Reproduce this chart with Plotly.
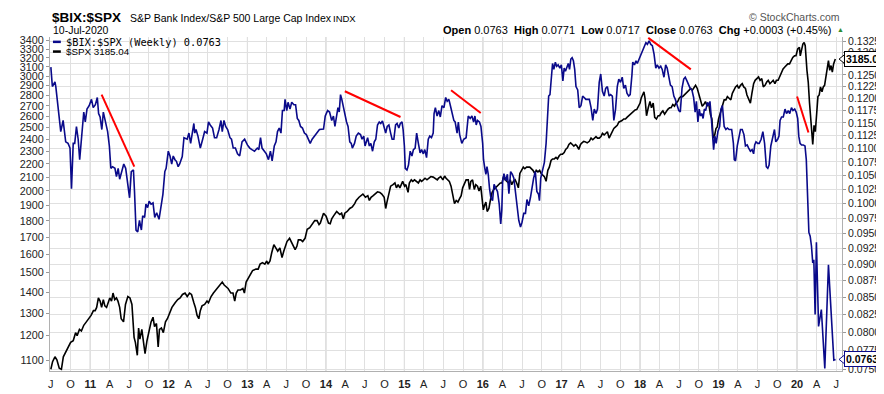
import math
import plotly.graph_objects as go

# ---------------- data ----------------
ratio_points = [
("2010-07-02",0.1267),("2010-07-09",0.1225),("2010-07-21",0.1235),("2010-07-25",0.1225),("2010-08-17",0.1133),
("2010-08-28",0.1155),("2010-09-09",0.1113),("2010-09-20",0.1110),("2010-09-29",0.1101),("2010-10-06",0.1026),
("2010-10-14",0.1110),("2010-10-21",0.1110),("2010-10-29",0.1143),("2010-11-06",0.1118),("2010-11-13",0.1079),
("2010-11-24",0.1137),("2010-12-02",0.1172),("2010-12-09",0.1152),("2010-12-17",0.1178),("2010-12-27",0.1185),
("2011-01-07",0.1198),("2011-01-15",0.1181),("2011-01-25",0.1187),("2011-02-03",0.1202),("2011-02-09",0.1169),
("2011-02-16",0.1162),("2011-02-24",0.1137),("2011-03-03",0.1172),("2011-03-14",0.1149),("2011-03-23",0.1133),
("2011-03-31",0.1105),("2011-04-07",0.1063),("2011-04-15",0.1066),("2011-04-26",0.1063),("2011-05-03",0.1048),
("2011-05-11",0.1063),("2011-05-18",0.1043),("2011-05-27",0.1057),("2011-06-06",0.1071),("2011-06-15",0.1063),
("2011-06-25",0.1027),("2011-07-03",0.1010),("2011-07-11",0.1057),("2011-07-21",0.1060),("2011-07-26",0.1021),
("2011-08-02",0.0955),("2011-08-10",0.0952),("2011-08-18",0.0971),("2011-08-27",0.0955),("2011-09-02",0.0979),
("2011-09-11",0.0976),("2011-09-17",0.0999),("2011-09-25",0.0993),("2011-10-02",0.1004),("2011-10-11",0.0999),
("2011-10-20",0.1001),("2011-10-28",0.0976),("2011-11-06",0.0984),("2011-11-17",0.0973),("2011-11-26",0.0999),
("2011-12-05",0.1016),("2011-12-14",0.1057),("2011-12-20",0.1063),("2011-12-30",0.1095),("2012-01-07",0.1086),
("2012-01-15",0.1071),("2012-01-22",0.1086),("2012-01-30",0.1079),("2012-02-06",0.1076),("2012-02-14",0.1066),
("2012-02-21",0.1071),("2012-03-04",0.1085),("2012-03-12",0.1121),("2012-03-27",0.1118),("2012-04-04",0.1130),
("2012-04-12",0.1110),("2012-04-19",0.1127),("2012-04-27",0.1149),("2012-05-01",0.1130),("2012-05-07",0.1137),
("2012-05-16",0.1124),("2012-05-27",0.1101),("2012-06-07",0.1118),("2012-06-16",0.1133),("2012-06-27",0.1130),
("2012-07-04",0.1152),("2012-07-12",0.1146),("2012-07-23",0.1140),("2012-08-01",0.1121),("2012-08-11",0.1121),
("2012-08-22",0.1137),("2012-08-31",0.1155),("2012-09-06",0.1133),("2012-09-14",0.1155),("2012-09-22",0.1143),
("2012-10-01",0.1137),("2012-10-12",0.1121),("2012-10-19",0.1118),("2012-10-27",0.1101),("2012-11-06",0.1101),
("2012-11-16",0.1090),("2012-11-26",0.1086),("2012-12-07",0.1113),("2012-12-19",0.1118),("2013-01-01",0.1107),
("2013-01-12",0.1101),("2013-01-22",0.1098),("2013-02-03",0.1095),("2013-02-16",0.1101),("2013-02-23",0.1098),
("2013-03-03",0.1121),("2013-03-10",0.1101),("2013-03-21",0.1095),("2013-03-30",0.1090),("2013-04-09",0.1079),
("2013-04-18",0.1095),("2013-04-26",0.1077),("2013-05-06",0.1105),("2013-05-14",0.1113),("2013-05-21",0.1133),
("2013-05-29",0.1140),("2013-06-06",0.1130),("2013-06-13",0.1175),("2013-06-21",0.1175),("2013-06-25",0.1198),
("2013-07-03",0.1175),("2013-07-09",0.1192),("2013-07-18",0.1178),("2013-07-26",0.1192),("2013-08-05",0.1187),
("2013-08-13",0.1187),("2013-08-21",0.1159),("2013-08-28",0.1155),("2013-09-05",0.1143),("2013-09-14",0.1140),
("2013-09-23",0.1130),("2013-10-02",0.1127),("2013-10-13",0.1118),("2013-10-20",0.1110),("2013-10-29",0.1118),
("2013-11-08",0.1124),("2013-11-17",0.1130),("2013-11-26",0.1133),("2013-12-02",0.1137),("2013-12-21",0.1138),
("2013-12-29",0.1164),("2014-01-09",0.1175),("2014-01-18",0.1172),("2014-01-28",0.1155),("2014-02-05",0.1164),
("2014-02-12",0.1143),("2014-02-20",0.1162),("2014-02-26",0.1181),("2014-03-04",0.1172),("2014-03-10",0.1208),
("2014-03-16",0.1198),("2014-03-22",0.1185),("2014-03-30",0.1162),("2014-04-07",0.1152),("2014-04-14",0.1143),
("2014-04-22",0.1113),("2014-04-29",0.1110),("2014-05-04",0.1101),("2014-05-14",0.1110),("2014-05-22",0.1124),
("2014-06-01",0.1130),("2014-06-11",0.1127),("2014-06-18",0.1118),("2014-06-26",0.1124),("2014-07-02",0.1105),
("2014-07-09",0.1118),("2014-07-14",0.1121),("2014-07-22",0.1105),("2014-07-29",0.1110),("2014-08-06",0.1095),
("2014-08-14",0.1113),("2014-08-21",0.1118),("2014-08-29",0.1146),("2014-09-06",0.1152),("2014-09-13",0.1149),
("2014-09-21",0.1154),("2014-09-28",0.1143),("2014-10-06",0.1130),("2014-10-13",0.1143),("2014-10-21",0.1146),
("2014-10-29",0.1130),("2014-11-05",0.1118),("2014-11-13",0.1118),("2014-11-21",0.1146),("2014-11-28",0.1149),
("2014-12-06",0.1140),("2014-12-13",0.1149),("2014-12-21",0.1152),("2014-12-26",0.1137),("2015-01-01",0.1105),
("2015-01-05",0.1063),("2015-01-13",0.1060),("2015-01-20",0.1069),("2015-01-28",0.1095),("2015-02-05",0.1086),
("2015-02-12",0.1098),("2015-02-20",0.1101),("2015-02-27",0.1130),("2015-03-07",0.1110),("2015-03-15",0.1092),
("2015-03-22",0.1098),("2015-03-30",0.1090),("2015-04-06",0.1098),("2015-04-14",0.1083),("2015-04-22",0.1118),
("2015-04-29",0.1124),("2015-05-07",0.1121),("2015-05-15",0.1130),("2015-05-19",0.1169),("2015-05-25",0.1181),
("2015-06-02",0.1164),("2015-06-10",0.1175),("2015-06-17",0.1162),("2015-06-25",0.1185),("2015-07-04",0.1181),
("2015-07-12",0.1202),("2015-07-19",0.1194),("2015-07-27",0.1198),("2015-08-03",0.1185),("2015-08-11",0.1169),
("2015-08-19",0.1155),("2015-08-25",0.1152),("2015-09-03",0.1130),("2015-09-09",0.1152),("2015-09-15",0.1127),
("2015-09-25",0.1110),("2015-10-04",0.1118),("2015-10-15",0.1121),("2015-10-25",0.1164),("2015-11-03",0.1159),
("2015-11-11",0.1164),("2015-11-19",0.1152),("2015-11-25",0.1164),("2015-12-01",0.1146),("2015-12-07",0.1155),
("2015-12-16",0.1152),("2015-12-23",0.1143),("2015-12-31",0.1110),("2016-01-04",0.1079),("2016-01-10",0.1063),
("2016-01-15",0.1052),("2016-01-20",0.1066),("2016-01-26",0.1052),("2016-02-01",0.1026),("2016-02-07",0.1010),
("2016-02-15",0.1005),("2016-02-22",0.1034),("2016-03-02",0.1026),("2016-03-09",0.1021),("2016-03-17",0.0999),
("2016-03-24",0.0965),("2016-03-29",0.0989),("2016-04-02",0.1040),("2016-04-08",0.1053),("2016-04-16",0.1040),
("2016-04-24",0.1052),("2016-05-01",0.1017),("2016-05-09",0.1057),("2016-05-17",0.1052),("2016-05-24",0.1045),
("2016-06-01",0.1021),("2016-06-09",0.0993),("2016-06-16",0.0971),("2016-06-24",0.0960),("2016-07-01",0.0968),
("2016-07-09",0.0983),("2016-07-17",0.0983),("2016-07-24",0.1007),("2016-08-01",0.0996),("2016-08-09",0.1010),
("2016-08-16",0.1030),("2016-08-24",0.1045),("2016-09-01",0.1057),("2016-09-08",0.1021),("2016-09-16",0.1016),
("2016-09-20",0.1005),("2016-09-26",0.1045),("2016-10-05",0.1063),("2016-10-13",0.1074),("2016-10-21",0.1110),
("2016-10-27",0.1155),("2016-11-02",0.1205),("2016-11-08",0.1208),("2016-11-14",0.1241),("2016-11-20",0.1275),
("2016-11-26",0.1262),("2016-12-03",0.1278),("2016-12-09",0.1269),("2016-12-16",0.1272),("2016-12-24",0.1265),
("2016-12-31",0.1272),("2017-01-07",0.1237),("2017-01-13",0.1265),("2017-01-19",0.1258),("2017-01-25",0.1265),
("2017-02-01",0.1275),("2017-02-07",0.1262),("2017-02-13",0.1285),("2017-02-19",0.1288),("2017-02-25",0.1281),
("2017-03-03",0.1262),("2017-03-09",0.1225),("2017-03-17",0.1218),("2017-03-24",0.1181),("2017-04-01",0.1185),
("2017-04-09",0.1205),("2017-04-16",0.1202),("2017-04-24",0.1198),("2017-05-10",0.1198),("2017-05-18",0.1181),
("2017-05-26",0.1155),("2017-06-02",0.1178),("2017-06-10",0.1169),("2017-06-17",0.1178),("2017-06-25",0.1234),
("2017-07-02",0.1252),("2017-07-10",0.1215),("2017-07-18",0.1205),("2017-07-25",0.1221),("2017-08-02",0.1225),
("2017-08-10",0.1205),("2017-08-17",0.1208),("2017-08-25",0.1205),("2017-09-01",0.1155),("2017-09-09",0.1178),
("2017-09-17",0.1225),("2017-09-24",0.1241),("2017-10-02",0.1234),("2017-10-10",0.1245),("2017-10-17",0.1221),
("2017-10-25",0.1228),("2017-11-01",0.1211),("2017-11-09",0.1205),("2017-11-16",0.1208),("2017-11-24",0.1249),
("2017-11-28",0.1278),("2017-12-06",0.1272),("2017-12-13",0.1281),("2017-12-19",0.1275),("2017-12-28",0.1285),
("2018-01-05",0.1296),("2018-01-13",0.1303),("2018-01-20",0.1315),("2018-01-28",0.1322),("2018-02-04",0.1318),
("2018-02-12",0.1326),("2018-02-20",0.1318),("2018-02-27",0.1315),("2018-03-07",0.1296),("2018-03-15",0.1265),
("2018-03-22",0.1272),("2018-03-30",0.1265),("2018-04-07",0.1269),("2018-04-14",0.1262),("2018-04-22",0.1245),
("2018-04-30",0.1272),("2018-05-07",0.1265),("2018-05-15",0.1245),("2018-05-22",0.1228),("2018-05-30",0.1225),
("2018-06-07",0.1205),("2018-06-14",0.1198),("2018-06-22",0.1185),("2018-06-30",0.1175),("2018-07-07",0.1172),
("2018-07-15",0.1221),("2018-07-23",0.1241),("2018-07-30",0.1245),("2018-08-07",0.1237),("2018-08-15",0.1228),
("2018-08-22",0.1221),("2018-08-30",0.1218),("2018-09-07",0.1202),("2018-09-14",0.1172),("2018-09-20",0.1194),
("2018-09-27",0.1152),("2018-10-03",0.1178),("2018-10-09",0.1164),("2018-10-15",0.1169),("2018-10-21",0.1159),
("2018-10-27",0.1178),("2018-11-02",0.1175),("2018-11-10",0.1192),("2018-11-17",0.1185),("2018-11-22",0.1194),
("2018-11-28",0.1162),("2018-12-03",0.1133),("2018-12-09",0.1098),("2018-12-15",0.1124),("2018-12-21",0.1110),
("2018-12-29",0.1133),("2019-01-06",0.1143),("2019-01-12",0.1178),("2019-01-19",0.1185),("2019-01-27",0.1143),
("2019-02-04",0.1137),("2019-02-11",0.1140),("2019-02-19",0.1137),("2019-03-03",0.1137),("2019-03-11",0.1110),
("2019-03-15",0.1079),("2019-03-21",0.1077),("2019-03-29",0.1105),("2019-04-06",0.1124),("2019-04-13",0.1137),
("2019-04-21",0.1137),("2019-04-29",0.1127),("2019-05-06",0.1105),("2019-05-14",0.1107),("2019-05-21",0.1101),
("2019-05-29",0.1095),("2019-06-06",0.1098),("2019-06-13",0.1090),("2019-06-18",0.1107),("2019-06-24",0.1113),
("2019-07-02",0.1110),("2019-07-09",0.1110),("2019-07-18",0.1118),("2019-07-26",0.1133),("2019-08-03",0.1110),
("2019-08-11",0.1066),("2019-08-18",0.1063),("2019-08-24",0.1069),("2019-09-01",0.1105),("2019-09-09",0.1121),
("2019-09-18",0.1137),("2019-09-24",0.1113),("2019-10-03",0.1118),("2019-10-09",0.1124),("2019-10-14",0.1155),
("2019-10-21",0.1162),("2019-10-29",0.1162),("2019-11-06",0.1178),("2019-11-13",0.1169),("2019-11-21",0.1175),
("2019-11-28",0.1169),("2019-12-06",0.1181),("2019-12-13",0.1175),("2019-12-21",0.1178),("2019-12-28",0.1172),
("2020-01-04",0.1159),("2020-01-09",0.1124),("2020-01-15",0.1110),("2020-01-22",0.1107),("2020-01-30",0.1107),
("2020-02-07",0.1105),("2020-02-13",0.1079),("2020-02-19",0.1021),("2020-02-25",0.0951),("2020-03-02",0.0945),
("2020-03-08",0.0929),("2020-03-14",0.0902),("2020-03-19",0.0907),("2020-03-25",0.0825),("2020-03-31",0.0935),
("2020-04-10",0.0808),("2020-04-23",0.0832),("2020-05-09",0.0751),("2020-05-26",0.0899),("2020-06-20",0.0762),
("2020-06-28",0.0763),
]

spx_points = [
("2010-07-02",1066),("2010-07-10",1095),("2010-07-21",1114),("2010-07-30",1102),("2010-08-10",1070),
("2010-08-20",1066),("2010-08-29",1114),("2010-09-09",1134),("2010-09-20",1153),("2010-10-02",1172),
("2010-10-14",1179),("2010-10-25",1213),("2010-11-01",1200),("2010-11-12",1227),("2010-11-21",1220),
("2010-12-02",1245),("2010-12-14",1260),("2010-12-24",1274),("2011-01-05",1289),("2011-01-16",1311),
("2011-01-24",1311),("2011-01-31",1326),("2011-02-08",1371),("2011-02-16",1356),("2011-02-23",1326),
("2011-03-03",1363),("2011-03-10",1333),("2011-03-18",1326),("2011-03-26",1356),("2011-04-02",1371),
("2011-04-10",1356),("2011-04-17",1395),("2011-04-25",1363),("2011-05-03",1371),("2011-05-10",1356),
("2011-05-18",1326),("2011-05-25",1274),("2011-06-05",1260),("2011-06-14",1340),("2011-06-25",1378),
("2011-07-05",1371),("2011-07-14",1340),("2011-07-24",1193),("2011-07-30",1172),("2011-08-08",1120),
("2011-08-14",1233),("2011-08-20",1186),("2011-08-29",1227),("2011-09-06",1172),("2011-09-13",1126),
("2011-09-22",1179),("2011-10-02",1227),("2011-10-11",1260),("2011-10-20",1281),("2011-10-27",1239),
("2011-11-05",1253),("2011-11-13",1153),("2011-11-19",1227),("2011-11-28",1233),("2011-12-07",1213),
("2011-12-17",1260),("2011-12-26",1274),("2012-01-04",1296),("2012-01-16",1326),("2012-01-31",1348),
("2012-02-12",1363),("2012-02-23",1371),("2012-03-05",1388),("2012-03-17",1395),("2012-03-27",1378),
("2012-04-07",1395),("2012-04-16",1388),("2012-04-27",1348),("2012-05-04",1326),("2012-05-12",1289),
("2012-05-20",1274),("2012-05-27",1311),("2012-06-04",1333),("2012-06-16",1340),("2012-06-27",1356),
("2012-07-04",1348),("2012-07-16",1378),("2012-07-27",1395),("2012-08-07",1410),("2012-08-19",1427),
("2012-08-31",1442),("2012-09-06",1450),("2012-09-15",1435),("2012-09-26",1427),("2012-10-03",1418),
("2012-10-16",1395),("2012-10-26",1395),("2012-11-03",1356),("2012-11-10",1395),("2012-11-18",1410),
("2012-11-30",1410),("2012-12-11",1418),("2012-12-18",1395),("2012-12-26",1450),("2013-01-03",1467),
("2013-01-15",1492),("2013-01-25",1510),("2013-02-10",1518),("2013-02-20",1518),("2013-03-01",1545),
("2013-03-12",1553),("2013-03-23",1545),("2013-04-01",1562),("2013-04-07",1545),("2013-04-16",1562),
("2013-04-24",1608),("2013-05-04",1654),("2013-05-13",1636),("2013-05-22",1617),("2013-06-01",1636),
("2013-06-11",1581),("2013-06-19",1617),("2013-06-26",1645),("2013-07-04",1673),("2013-07-16",1692),
("2013-07-27",1664),("2013-08-03",1654),("2013-08-11",1626),("2013-08-19",1645),("2013-08-26",1683),
("2013-09-06",1683),("2013-09-15",1673),("2013-09-26",1692),("2013-10-06",1747),("2013-10-18",1757),
("2013-10-31",1786),("2013-11-10",1801),("2013-11-21",1801),("2013-11-30",1776),("2013-12-06",1786),
("2013-12-14",1830),("2013-12-21",1849),("2014-01-02",1830),("2014-01-13",1786),("2014-01-21",1782),
("2014-01-28",1812),("2014-02-05",1830),("2014-02-13",1849),("2014-02-20",1860),("2014-02-28",1849),
("2014-03-07",1840),("2014-03-15",1849),("2014-03-23",1812),("2014-03-30",1849),("2014-04-10",1860),
("2014-04-22",1880),("2014-05-04",1891),("2014-05-15",1912),("2014-05-22",1934),("2014-06-04",1956),
("2014-06-14",1967),("2014-06-22",1978),("2014-07-04",1956),("2014-07-15",1967),("2014-07-22",1934),
("2014-07-30",1956),("2014-08-09",1967),("2014-08-19",1978),("2014-08-29",1994),("2014-09-09",1990),
("2014-09-18",1978),("2014-09-29",1956),("2014-10-06",1880),("2014-10-12",1923),("2014-10-21",1990),
("2014-10-29",2034),("2014-11-09",2045),("2014-11-18",2057),("2014-11-25",2022),("2014-12-03",2045),
("2014-12-11",2022),("2014-12-18",2057),("2014-12-24",2069),("2015-01-02",2034),("2015-01-08",2045),
("2015-01-18",1990),("2015-01-24",2057),("2015-02-02",2080),("2015-02-09",2069),("2015-02-17",2080),
("2015-02-28",2069),("2015-03-07",2057),("2015-03-15",2080),("2015-03-22",2069),("2015-03-30",2080),
("2015-04-07",2092),("2015-04-16",2080),("2015-04-25",2092),("2015-05-04",2104),("2015-05-15",2100),
("2015-05-25",2092),("2015-06-03",2080),("2015-06-09",2092),("2015-06-19",2104),("2015-06-29",2080),
("2015-07-07",2108),("2015-07-14",2092),("2015-07-22",2080),("2015-07-29",2069),("2015-08-06",2034),
("2015-08-22",1912),("2015-08-30",1934),("2015-09-07",1923),("2015-09-14",1945),("2015-09-22",1967),
("2015-09-29",2022),("2015-10-07",2057),("2015-10-15",2080),("2015-10-25",2080),("2015-10-31",2011),
("2015-11-06",2069),("2015-11-14",2080),("2015-11-22",2011),("2015-11-29",2045),("2015-12-07",2034),
("2015-12-14",2000),("2015-12-22",2034),("2015-12-30",1945),("2016-01-03",1871),("2016-01-09",1901),
("2016-01-15",1923),("2016-01-21",1860),("2016-01-29",1880),("2016-02-06",1945),("2016-02-13",1990),
("2016-02-21",2011),("2016-02-28",2022),("2016-03-07",2034),("2016-03-15",2045),("2016-03-22",2057),
("2016-03-30",2057),("2016-04-06",2104),("2016-04-14",2080),("2016-04-22",2069),("2016-04-29",2057),
("2016-05-07",2080),("2016-05-14",2045),("2016-05-22",2069),("2016-05-30",2080),("2016-06-06",2057),
("2016-06-14",2022),("2016-06-21",2127),("2016-06-29",2151),("2016-07-07",2175),("2016-07-14",2163),
("2016-07-22",2175),("2016-08-06",2175),("2016-08-14",2163),("2016-08-21",2151),("2016-08-29",2127),
("2016-09-05",2151),("2016-09-13",2139),("2016-09-21",2151),("2016-09-28",2127),("2016-10-06",2115),
("2016-10-13",2104),("2016-10-21",2069),("2016-10-29",2151),("2016-11-05",2175),("2016-11-13",2227),
("2016-11-20",2239),("2016-11-28",2239),("2016-12-06",2251),("2016-12-13",2239),("2016-12-21",2264),
("2016-12-28",2277),("2017-01-05",2277),("2017-01-13",2290),("2017-01-20",2316),("2017-01-28",2329),
("2017-02-04",2356),("2017-02-12",2370),("2017-02-20",2356),("2017-02-27",2343),("2017-03-07",2356),
("2017-03-14",2343),("2017-03-22",2316),("2017-03-30",2356),("2017-04-06",2370),("2017-04-14",2383),
("2017-04-22",2378),("2017-04-30",2370),("2017-05-10",2383),("2017-05-18",2410),("2017-05-26",2396),
("2017-06-02",2410),("2017-06-10",2423),("2017-06-17",2410),("2017-06-25",2410),("2017-07-03",2423),
("2017-07-10",2451),("2017-07-18",2437),("2017-07-25",2451),("2017-08-02",2465),("2017-08-10",2410),
("2017-08-17",2437),("2017-08-25",2465),("2017-09-01",2493),("2017-09-09",2507),("2017-09-17",2521),
("2017-09-24",2549),("2017-10-02",2555),("2017-10-09",2564),("2017-10-17",2578),("2017-10-25",2578),
("2017-11-01",2593),("2017-11-09",2608),("2017-11-16",2622),("2017-11-24",2637),("2017-12-02",2652),
("2017-12-09",2661),("2017-12-17",2667),("2017-12-24",2697),("2018-01-01",2727),("2018-01-06",2774),
("2018-01-13",2806),("2018-01-19",2838),("2018-01-24",2774),("2018-01-31",2608),("2018-02-08",2682),
("2018-02-16",2742),("2018-02-23",2682),("2018-03-03",2727),("2018-03-10",2593),("2018-03-18",2578),
("2018-03-26",2608),("2018-04-02",2608),("2018-04-10",2637),("2018-04-17",2652),("2018-04-25",2622),
("2018-05-03",2652),("2018-05-10",2667),("2018-05-18",2682),("2018-05-25",2682),("2018-06-02",2712),
("2018-06-10",2697),("2018-06-17",2727),("2018-06-25",2742),("2018-07-02",2774),("2018-07-10",2790),
("2018-07-18",2790),("2018-07-25",2806),("2018-08-02",2822),("2018-08-09",2838),("2018-08-17",2854),
("2018-08-25",2871),("2018-09-01",2854),("2018-09-09",2887),("2018-09-16",2903),("2018-09-24",2871),
("2018-10-02",2806),("2018-10-09",2758),("2018-10-17",2697),("2018-10-24",2712),("2018-11-01",2742),
("2018-11-09",2697),("2018-11-16",2727),("2018-11-24",2622),("2018-12-01",2578),("2018-12-07",2410),
("2018-12-14",2437),("2018-12-20",2493),("2018-12-26",2507),("2019-01-01",2578),("2019-01-12",2652),
("2019-01-19",2712),("2019-01-27",2758),("2019-02-04",2758),("2019-02-11",2790),("2019-02-19",2774),
("2019-02-27",2758),("2019-03-06",2822),("2019-03-14",2854),("2019-03-21",2887),("2019-03-29",2903),
("2019-04-05",2871),("2019-04-13",2903),("2019-04-21",2920),("2019-04-28",2887),("2019-05-06",2871),
("2019-05-13",2806),("2019-05-21",2758),("2019-05-29",2727),("2019-06-05",2822),("2019-06-13",2920),
("2019-06-20",2955),("2019-06-28",2972),("2019-07-06",2990),("2019-07-13",2955),("2019-07-21",2972),
("2019-07-28",2887),("2019-08-05",2903),("2019-08-13",2937),("2019-08-20",2955),("2019-08-28",2920),
("2019-09-04",2937),("2019-09-12",2955),("2019-09-20",2920),("2019-09-27",2955),("2019-10-05",2955),
("2019-10-12",2990),("2019-10-20",3043),("2019-10-28",3077),("2019-11-04",3095),("2019-11-12",3113),
("2019-11-19",3131),("2019-11-27",3131),("2019-12-05",3167),("2019-12-12",3204),("2019-12-20",3222),
("2019-12-27",3222),("2020-01-04",3300),("2020-01-12",3319),("2020-01-16",3222),("2020-01-22",3300),
("2020-01-28",3358),("2020-02-03",3377),("2020-02-08",3339),("2020-02-16",3061),("2020-02-22",2937),
("2020-02-28",2727),("2020-03-08",2493),("2020-03-14",2356),("2020-03-20",2521),("2020-03-26",2465),
("2020-04-01",2622),("2020-04-07",2790),("2020-04-13",2806),("2020-04-19",2887),("2020-04-26",2838),
("2020-05-02",2887),("2020-05-08",2903),("2020-05-14",2990),("2020-05-20",3061),("2020-05-26",3167),
("2020-06-01",3061),("2020-06-07",3113),("2020-06-13",3043),("2020-06-19",3131),("2020-06-27",3185.04),
]

# red trend lines drawn on the ratio
trend_lines = [
    (["2011-02-23", "2011-07-25"], [0.1208, 0.1066]),
    (["2014-03-30", "2014-12-14"], [0.1215, 0.1162]),
    (["2015-08-06", "2015-12-22"], [0.1217, 0.1170]),
    (["2018-02-08", "2018-08-25"], [0.1333, 0.1262]),
    (["2020-01-01", "2020-02-23"], [0.1204, 0.1131]),
]

spx_ticks = list(range(1100, 3401, 100))
ratio_ticks = [0.0750 + 0.0025 * i for i in range(24)]
quarter_ticks = []
quarter_labels = []
for yr in range(2010, 2021):
    for m, lab in ((1, None), (4, "A"), (7, "J"), (10, "O")):
        d = f"{yr}-{m:02d}-01"
        if d < "2010-07-01" or d > "2020-07-01":
            continue
        quarter_ticks.append(d)
        quarter_labels.append(f"<b>{str(yr)[2:]}</b>" if m == 1 else lab)
year_lines = [f"{yr}-01-01" for yr in range(2011, 2021)]

title_sym = "$BIX:$SPX"
title_desc = "S&P Bank Index/S&P 500 Large Cap Index"
chart_date = "10-Jul-2020"
last_ratio = 0.0763
last_spx = 3185.04

# ---------------- figure ----------------
W, H = 884, 394
L, R, T, B = 40, 845, 29, 373
FONT = "Liberation Sans"


def px(x):
    return (x - L) / (R - L)


def py(y):
    return (B - y) / (B - T)


spx_range = [math.log10(1059.5), math.log10(3443)]
ratio_range = [math.log10(0.07478), math.log10(0.1335)]

fig = go.Figure()
fig.add_trace(go.Scatter(x=[d for d, _ in spx_points], y=[v for _, v in spx_points],
                         mode="lines", line=dict(color="#000000", width=1.6),
                         yaxis="y", hoverinfo="skip"))
fig.add_trace(go.Scatter(x=[d for d, _ in ratio_points], y=[v for _, v in ratio_points],
                         mode="lines", line=dict(color="#0a0a8a", width=1.6),
                         yaxis="y2", hoverinfo="skip"))
for xs, ys in trend_lines:
    fig.add_trace(go.Scatter(x=xs, y=ys, mode="lines", line=dict(color="#ff0000", width=2),
                             yaxis="y2", hoverinfo="skip"))

shapes = []
for d in year_lines:
    shapes.append(dict(type="line", xref="x", yref="paper", x0=d, x1=d, y0=0, y1=1,
                       line=dict(color="#bcbcbc", width=1), layer="below"))
# legend dashes
shapes.append(dict(type="line", xref="paper", yref="paper", x0=px(43), x1=px(51), y0=py(34), y1=py(34),
                   line=dict(color="#0a0a8a", width=2.5)))
shapes.append(dict(type="line", xref="paper", yref="paper", x0=px(43), x1=px(51), y0=py(44), y1=py(44),
                   line=dict(color="#000000", width=2.5)))


def frac(v, rng):
    return (math.log10(v) - rng[0]) / (rng[1] - rng[0])


for v, rng, col in ((last_spx, spx_range, "#000000"), (last_ratio, ratio_range, "#0a0a8a")):
    yc = frac(v, rng)
    d = 4.5 / (B - T)
    shapes.append(dict(type="path", xref="paper", yref="paper",
                       path=f"M {px(842)},{yc} L {px(847.5)},{yc + d} L {px(847.5)},{yc - d} Z",
                       fillcolor="white", line=dict(color=col, width=1)))

ann = []
ann.append(dict(text=f"<b>{title_sym}</b>", x=px(40.5), y=py(8.5), xref="paper", yref="paper",
                xanchor="left", yanchor="middle", showarrow=False,
                font=dict(size=13.5, family="Liberation Sans", color="#000")))
ann.append(dict(text=title_desc, x=px(119), y=py(9), xref="paper", yref="paper",
                xanchor="left", yanchor="middle", showarrow=False, font=dict(size=10.5, family=FONT, color="#000")))
ann.append(dict(text="INDX", x=px(326), y=py(9.5), xref="paper", yref="paper",
                xanchor="left", yanchor="middle", showarrow=False, font=dict(size=9.5, family=FONT, color="#000")))
ann.append(dict(text=chart_date, x=px(41), y=py(21.5), xref="paper", yref="paper",
                xanchor="left", yanchor="middle", showarrow=False, font=dict(size=10.5, family=FONT, color="#000")))
ann.append(dict(text="\u00a9 StockCharts.com", x=px(845), y=py(8), xref="paper", yref="paper",
                xanchor="right", yanchor="middle", showarrow=False, font=dict(size=10.5, family=FONT, color="#555")))
ann.append(dict(text="<b>Open</b> 0.0763  <b>High</b> 0.0771  <b>Low</b> 0.0717  <b>Close</b> 0.0763  "
                     "<b>Chg</b> +0.0003 (+0.45%)",
                x=px(836), y=py(21.5), xref="paper", yref="paper", xanchor="right", yanchor="middle",
                showarrow=False, font=dict(size=11.0, family=FONT, color="#000")))
ann.append(dict(text="\u25b2", x=px(838), y=py(21), xref="paper", yref="paper", xanchor="left",
                yanchor="middle", showarrow=False, font=dict(size=7, family=FONT, color="#2e8b2e")))
ann.append(dict(text=f"{title_sym} (Weekly) {last_ratio:.4f}", x=px(54), y=py(34), xref="paper", yref="paper",
                xanchor="left", yanchor="middle", showarrow=False,
                font=dict(size=10.3, family="DejaVu Sans Mono, monospace", color="#000")))
ann.append(dict(text=f"$SPX {last_spx:.2f}", x=px(54), y=py(44), xref="paper", yref="paper",
                xanchor="left", yanchor="middle", showarrow=False, font=dict(size=9.8, family=FONT, color="#000")))
ann.append(dict(text=f"<b>{last_spx:.2f}</b>", x=px(847), y=math.log10(last_spx), xref="paper", yref="y",
                xanchor="left", yanchor="middle", showarrow=False, bgcolor="white", bordercolor="#000",
                borderwidth=1, borderpad=1, font=dict(size=10.5, family=FONT, color="#000")))
ann.append(dict(text=f"<b>{last_ratio:.4f}</b>", x=px(847), y=math.log10(last_ratio), xref="paper", yref="y2",
                xanchor="left", yanchor="middle", showarrow=False, bgcolor="white", bordercolor="#0a0a8a",
                borderwidth=1, borderpad=1, font=dict(size=10.5, family=FONT, color="#000")))

fig.update_layout(
    width=W, height=H,
    margin=dict(l=L, r=W - R, t=T, b=H - B, pad=0),
    paper_bgcolor="white", plot_bgcolor="white",
    showlegend=False,
    shapes=shapes, annotations=ann,
    xaxis=dict(type="date", range=["2010-06-28", "2020-07-28"], tickvals=quarter_ticks, ticktext=quarter_labels,
               showgrid=True, gridcolor="#e0e0e0", gridwidth=1, zeroline=False,
               showline=True, linecolor="#b0b0b0", linewidth=1, ticks="outside", ticklen=3,
               tickcolor="rgba(0,0,0,0)", tickfont=dict(size=11, family=FONT, color="#222")),
    yaxis=dict(type="log", range=spx_range, tickvals=spx_ticks, ticktext=[str(v) for v in spx_ticks],
               showgrid=False, zeroline=False, showline=True, linecolor="#b0b0b0", linewidth=1,
               ticks="outside", ticklen=3, tickcolor="#999", tickfont=dict(size=10.8, family=FONT, color="#222")),
    yaxis2=dict(type="log", overlaying="y", side="right", range=ratio_range, tickvals=ratio_ticks,
                ticktext=[f"{v:.4f}" for v in ratio_ticks], showgrid=True, gridcolor="#e0e0e0", gridwidth=1,
                zeroline=False, showline=True, linecolor="#b0b0b0", linewidth=1, ticks="outside", ticklen=3,
                tickcolor="#999", tickfont=dict(size=10.5, family=FONT, color="#222")),
)

fig.write_html("out.html")
